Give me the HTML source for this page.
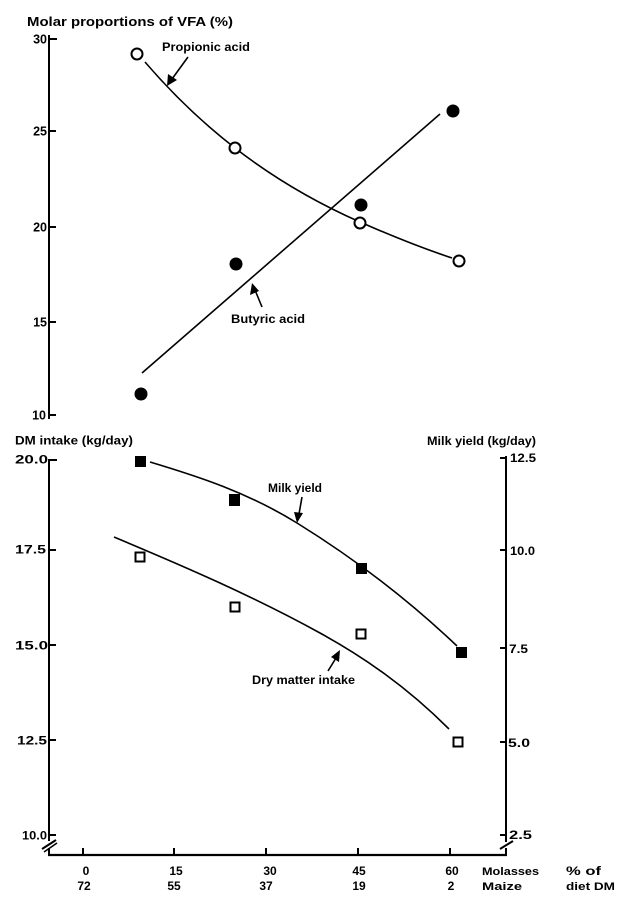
<!DOCTYPE html>
<html>
<head>
<meta charset="utf-8">
<style>
html,body{margin:0;padding:0;background:#fff;}
svg{display:block;}
text{font-family:"Liberation Sans",sans-serif;font-weight:bold;fill:#000;}
</style>
</head>
<body>
<svg width="633" height="912" viewBox="0 0 633 912" xmlns="http://www.w3.org/2000/svg">
<rect width="633" height="912" fill="#fff"/>

<!-- ===== TOP CHART ===== -->
<text x="27" y="26" font-size="13" textLength="206" lengthAdjust="spacingAndGlyphs">Molar proportions of VFA (%)</text>

<!-- left axis -->
<line x1="49" y1="35" x2="49" y2="419" stroke="#000" stroke-width="2"/>
<g stroke="#000" stroke-width="2">
<line x1="49" y1="39" x2="57" y2="39"/>
<line x1="49" y1="131" x2="56" y2="131"/>
<line x1="49" y1="227" x2="56" y2="227"/>
<line x1="49" y1="322" x2="56" y2="322"/>
<line x1="49" y1="415" x2="56" y2="415"/>
</g>
<g font-size="12.5" text-anchor="end">
<text x="47" y="43.5">30</text>
<text x="47" y="135.5">25</text>
<text x="47" y="231.5">20</text>
<text x="47" y="326.5">15</text>
<text x="46" y="419.5">10</text>
</g>

<!-- propionic curve -->
<path d="M145,62 C175,96.9 205,124.75 235,148 C276.7,180.3 318.3,203.6 360,222 C390.7,235.5 421.3,247.9 452,258" fill="none" stroke="#000" stroke-width="1.6"/>
<!-- butyric line -->
<line x1="142" y1="373" x2="440" y2="114" stroke="#000" stroke-width="1.6"/>

<!-- propionic markers -->
<g fill="#fff" stroke="#000" stroke-width="2">
<circle cx="137" cy="54" r="5.5"/>
<circle cx="235" cy="148" r="5.5"/>
<circle cx="360" cy="223" r="5.5"/>
<circle cx="459" cy="261" r="5.5"/>
</g>
<!-- butyric markers -->
<g fill="#000">
<circle cx="141" cy="394" r="6.5"/>
<circle cx="236" cy="264" r="6.5"/>
<circle cx="361" cy="205" r="6.5"/>
<circle cx="453" cy="111" r="6.5"/>
</g>

<!-- labels/arrows top -->
<text x="162" y="51" font-size="11.5" textLength="88" lengthAdjust="spacingAndGlyphs">Propionic acid</text>
<line x1="188" y1="57" x2="172" y2="79" stroke="#000" stroke-width="1.6"/>
<polygon points="167,86 168,74 177,80" fill="#000"/>

<text x="231" y="323" font-size="11.5" textLength="74" lengthAdjust="spacingAndGlyphs">Butyric acid</text>
<line x1="262" y1="307" x2="255" y2="290" stroke="#000" stroke-width="1.6"/>
<polygon points="252,283 250,295 259,291" fill="#000"/>

<!-- ===== BOTTOM CHART ===== -->
<text x="15" y="444.5" font-size="12" textLength="118" lengthAdjust="spacingAndGlyphs">DM intake (kg/day)</text>
<text x="427" y="445" font-size="12" textLength="109" lengthAdjust="spacingAndGlyphs">Milk yield (kg/day)</text>

<!-- left axis -->
<line x1="49" y1="459" x2="49" y2="841" stroke="#000" stroke-width="2"/>
<line x1="49" y1="848" x2="49" y2="856" stroke="#000" stroke-width="2"/>
<line x1="42" y1="849" x2="56" y2="840" stroke="#000" stroke-width="2"/>
<line x1="44" y1="852" x2="57" y2="843" stroke="#000" stroke-width="1.5"/>
<g stroke="#000" stroke-width="2">
<line x1="49" y1="460" x2="57" y2="460"/>
<line x1="49" y1="550" x2="56" y2="550"/>
<line x1="49" y1="645" x2="56" y2="645"/>
<line x1="49" y1="740" x2="56" y2="740"/>
<line x1="49" y1="835" x2="56" y2="835"/>
</g>
<g font-size="12" text-anchor="end">
<text x="48" y="463.5" textLength="33" lengthAdjust="spacingAndGlyphs">20.0</text>
<text x="46" y="553.5" textLength="31" lengthAdjust="spacingAndGlyphs">17.5</text>
<text x="48" y="649.5" textLength="33" lengthAdjust="spacingAndGlyphs">15.0</text>
<text x="47" y="744.5" textLength="30" lengthAdjust="spacingAndGlyphs">12.5</text>
<text x="47" y="839.5" textLength="25" lengthAdjust="spacingAndGlyphs">10.0</text>
</g>

<!-- right axis -->
<line x1="506" y1="456" x2="506" y2="842" stroke="#000" stroke-width="2"/>
<line x1="506" y1="848" x2="506" y2="856" stroke="#000" stroke-width="2"/>
<line x1="500" y1="849" x2="513" y2="841" stroke="#000" stroke-width="2"/>
<g stroke="#000" stroke-width="2">
<line x1="500" y1="458" x2="506" y2="458"/>
<line x1="500" y1="550" x2="506" y2="550"/>
<line x1="500" y1="648" x2="506" y2="648"/>
<line x1="500" y1="742" x2="506" y2="742"/>
<line x1="500" y1="835" x2="506" y2="835"/>
</g>
<g font-size="12">
<text x="510" y="462" textLength="26" lengthAdjust="spacingAndGlyphs">12.5</text>
<text x="510" y="555" textLength="25" lengthAdjust="spacingAndGlyphs">10.0</text>
<text x="509" y="653" textLength="19" lengthAdjust="spacingAndGlyphs">7.5</text>
<text x="508" y="747" textLength="22" lengthAdjust="spacingAndGlyphs">5.0</text>
<text x="509" y="839" textLength="23" lengthAdjust="spacingAndGlyphs">2.5</text>
</g>

<!-- x axis -->
<line x1="48" y1="855" x2="507" y2="855" stroke="#000" stroke-width="2.2"/>
<g stroke="#000" stroke-width="2">
<line x1="83" y1="855" x2="83" y2="848"/>
<line x1="174" y1="855" x2="174" y2="848"/>
<line x1="266" y1="855" x2="266" y2="848"/>
<line x1="358" y1="855" x2="358" y2="848"/>
<line x1="450" y1="855" x2="450" y2="848"/>
</g>
<g font-size="12" text-anchor="middle">
<text x="86" y="875">0</text>
<text x="84" y="890">72</text>
<text x="176" y="875">15</text>
<text x="174" y="890">55</text>
<text x="270" y="875">30</text>
<text x="266" y="890">37</text>
<text x="359" y="875">45</text>
<text x="359" y="890">19</text>
<text x="452" y="875">60</text>
<text x="451" y="890">2</text>
</g>
<text x="482" y="875" font-size="11" textLength="57" lengthAdjust="spacingAndGlyphs">Molasses</text>
<text x="482" y="890" font-size="11" textLength="40" lengthAdjust="spacingAndGlyphs">Maize</text>
<text x="566" y="875" font-size="12" textLength="35" lengthAdjust="spacingAndGlyphs">% of</text>
<text x="566" y="890" font-size="11" textLength="49" lengthAdjust="spacingAndGlyphs">diet DM</text>

<!-- milk yield curve -->
<path d="M150,462 C199,476.7 248,492.6 297,523 C350.3,556 403.7,595.3 457,646" fill="none" stroke="#000" stroke-width="1.6"/>
<!-- DM curve -->
<path d="M114,537 C182.7,565.8 251.3,595.2 320,633 C363,656.7 406,686 449,729" fill="none" stroke="#000" stroke-width="1.6"/>

<!-- milk yield markers -->
<g fill="#000">
<rect x="135" y="456" width="11" height="11"/>
<rect x="229" y="494" width="11" height="12"/>
<rect x="356" y="563" width="11" height="11"/>
<rect x="456" y="647" width="11" height="11"/>
</g>
<!-- DM markers -->
<g fill="#fff" stroke="#000" stroke-width="2">
<rect x="135.5" y="552.5" width="9" height="9"/>
<rect x="230.5" y="602.5" width="9" height="9"/>
<rect x="356.5" y="629.5" width="9" height="9"/>
<rect x="453.5" y="737.5" width="9" height="9"/>
</g>

<!-- labels/arrows bottom -->
<text x="268" y="492" font-size="11.5" textLength="54" lengthAdjust="spacingAndGlyphs">Milk yield</text>
<line x1="302" y1="497" x2="299" y2="514" stroke="#000" stroke-width="1.6"/>
<polygon points="297,523 294,512 303,513" fill="#000"/>

<text x="252" y="684" font-size="11.5" textLength="103" lengthAdjust="spacingAndGlyphs">Dry matter intake</text>
<line x1="328" y1="671" x2="336" y2="658" stroke="#000" stroke-width="1.6"/>
<polygon points="340,650 339,662 331,657" fill="#000"/>
</svg>
</body>
</html>
